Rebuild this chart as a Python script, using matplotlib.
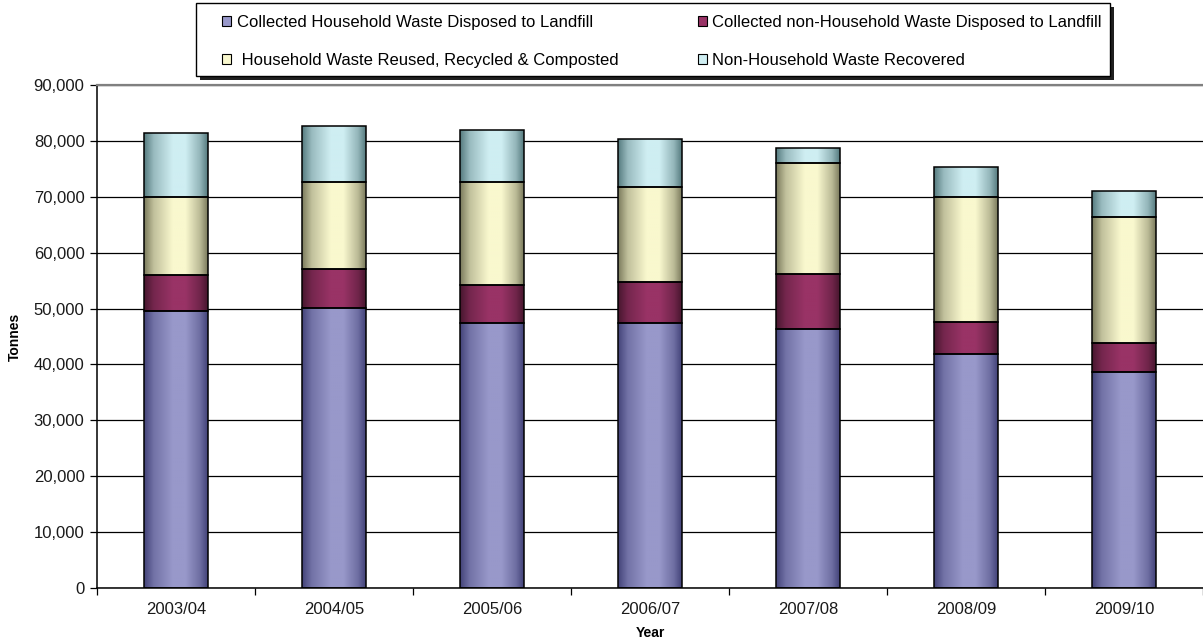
import numpy as np
import matplotlib.pyplot as plt
from matplotlib.patches import Rectangle, Patch
from matplotlib.ticker import FuncFormatter
from matplotlib.colors import to_rgb

plt.rcParams['font.family'] = ['Liberation Sans', 'DejaVu Sans']

# Waste arisings by year (tonnes)
years = ['2003/04', '2004/05', '2005/06', '2006/07', '2007/08', '2008/09', '2009/10']
hh_landfill = [49600, 50100, 47500, 47500, 46400, 41800, 38700]
nonhh_landfill = [6400, 6900, 6700, 7200, 9700, 5800, 5100]
hh_recycled = [13900, 15700, 18500, 17100, 19900, 22300, 22600]
nonhh_recovered = [11500, 10000, 9300, 8600, 2700, 5500, 4700]

labels = ['Collected Household Waste Disposed to Landfill',
          'Collected non-Household Waste Disposed to Landfill',
          ' Household Waste Reused, Recycled & Composted',
          'Non-Household Waste Recovered']
light = ['#9898CA', '#993366', '#F9F8CE', '#CFEEF2']
dark = ['#44447A', '#48172F', '#7C7C5E', '#577C80']

W, H = 1203, 642


def shade(lc, dc, n=96):
    # dark edges, bright band just right of centre (Excel style cylinder look)
    t = np.linspace(0, 1, n)
    w = np.interp(t, [0, .15, .45, .65, .88, 1], [0, .55, 1, 1, .5, 0])
    lo, hi = np.array(to_rgb(dc)), np.array(to_rgb(lc))
    return (lo + (hi - lo) * w[:, None])[None, :, :]


fig = plt.figure(figsize=(W / 100, H / 100), dpi=100)
ax = fig.add_axes([97 / W, 54 / H, 1106 / W, 503 / H])

x = np.arange(len(years))
bottom = np.zeros(len(years))
handles = []
for vals, lab, lc, dc in zip([hh_landfill, nonhh_landfill, hh_recycled, nonhh_recovered],
                             labels, light, dark):
    vals = np.array(vals, dtype=float)
    bars = ax.bar(x, vals, width=0.405, bottom=bottom, facecolor='none',
                  edgecolor='black', linewidth=1.1, zorder=3)
    grad = shade(lc, dc)
    for b in bars:
        x0, y0 = b.get_x(), b.get_y()
        im = ax.imshow(grad, extent=(x0, x0 + b.get_width(), y0, y0 + b.get_height()),
                       aspect='auto', interpolation='bilinear', zorder=2)
        im.set_clip_path(b)
    bottom += vals
    handles.append(Patch(facecolor=lc, edgecolor='black', linewidth=0.8, label=lab))

ax.set_xlim(-0.5, len(years) - 0.5)
ax.set_ylim(0, 90000)
ax.set_yticks(np.arange(0, 90001, 10000))
ax.yaxis.set_major_formatter(FuncFormatter(lambda v, p: f'{v:,.0f}'))
ax.set_xticks(x)
ax.set_xticklabels(years)
ax.set_xticks(np.arange(-0.5, len(years), 1), minor=True)

ax.yaxis.grid(True, color='black', linewidth=0.9)
ax.set_axisbelow(True)

ax.tick_params(axis='x', which='major', length=0, pad=10, labelsize=12, labelcolor='#1a1a1a')
ax.tick_params(axis='x', which='minor', length=5, width=0.9, direction='out')
ax.tick_params(axis='y', length=5, width=0.9, direction='out', pad=4,
               labelsize=12, labelcolor='#1a1a1a')

for side in ['left', 'bottom']:
    ax.spines[side].set_color('black')
    ax.spines[side].set_linewidth(1.1)
ax.spines['top'].set_color('#808080')
ax.spines['top'].set_linewidth(1.6)
ax.spines['right'].set_visible(False)

ax.set_ylabel('Tonnes', fontsize=10, fontweight='bold')
ax.yaxis.set_label_coords(-0.068, 0.5)
ax.set_xlabel('Year', fontsize=10, fontweight='bold')
ax.xaxis.set_label_coords(0.5, -0.076)

# legend frame with drop shadow
fig.patches.append(Rectangle((200 / W, 1 - 80 / H), 914 / W, 73 / H, transform=fig.transFigure,
                             facecolor='#202020', edgecolor='none', zorder=1))
fig.patches.append(Rectangle((196 / W, 1 - 76 / H), 914 / W, 73 / H, transform=fig.transFigure,
                             facecolor='white', edgecolor='black', linewidth=1, zorder=2))
fig.legend([handles[0], handles[2], handles[1], handles[3]],
           [labels[0], labels[2], labels[1], labels[3]],
           ncol=2, loc='upper left', bbox_to_anchor=(222 / W, 1 - 15 / H, 880 / W, 0),
           mode='expand', frameon=False, borderpad=0, borderaxespad=0, fontsize=12,
           handlelength=0.55, handleheight=0.55, handletextpad=0.35, labelspacing=1.4)

fig.savefig('out.png', dpi=100)
